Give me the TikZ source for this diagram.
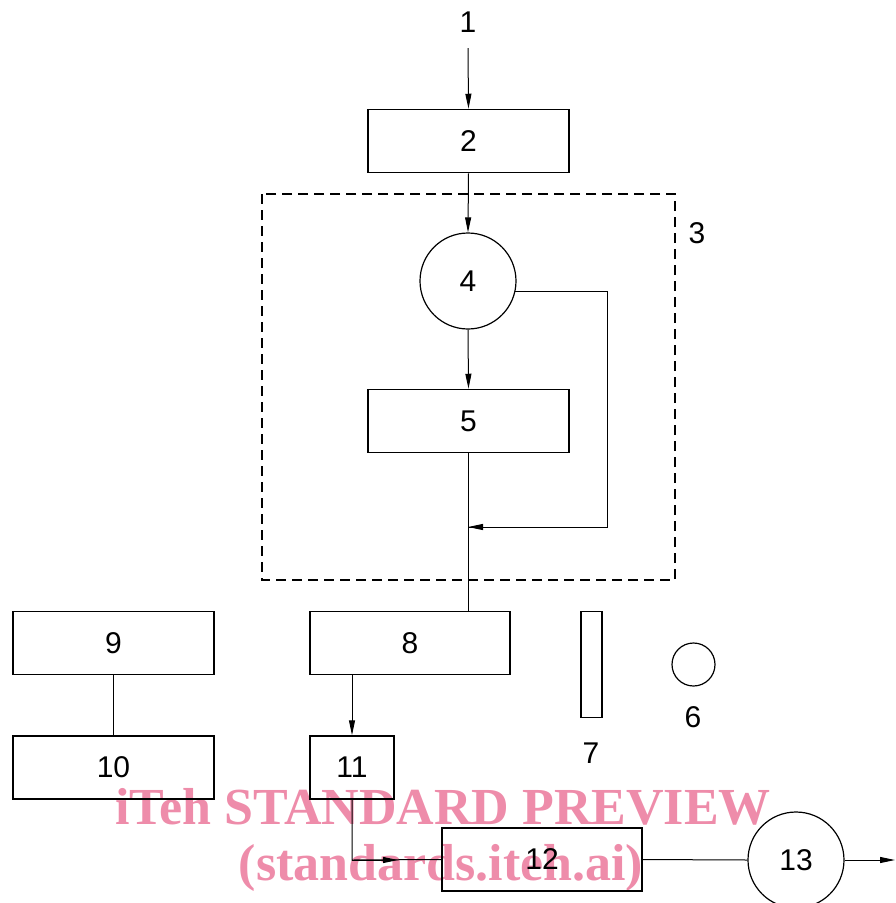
\documentclass[tikz,border=0pt]{standalone}
\usepackage{fontspec}
\setmainfont{Liberation Sans}
\newfontfamily\wmfont{Liberation Serif}
\usetikzlibrary{arrows.meta}
\definecolor{wmpink}{RGB}{238,140,170}
\tikzset{
  every node/.style={font=\fontsize{30}{30}\selectfont, inner sep=0pt},
  boxnode/.style={draw, line width=1.5pt, minimum width=201pt, minimum height=63pt},
  circnode/.style={draw, line width=1.2pt, circle, minimum size=96pt},
  conn/.style={line width=1pt},
  tip/.style={-{Triangle[length=15pt,width=6pt]}},
  lbl/.style={},
  dashbox/.style={draw, line width=1.3pt, dash pattern=on 10pt off 6pt},
  wm/.style={text=wmpink, font=\wmfont\bfseries\fontsize{52}{52}\selectfont, anchor=base}
}
\begin{document}
\begin{tikzpicture}[x=1pt,y=-1pt]
\useasboundingbox (0,0) rectangle (895,903);
% watermark
\node[wm] (wma) at (443,824) {iTeh STANDARD PREVIEW};
\node[wm] (wmb) at (441,880) {(standards.iteh.ai)};
% frame 3
\draw[dashbox] (262,194) rectangle (675,580);
\node[lbl] (n3) at (697,233) {3};
% nodes
\node[lbl] (n1) at (468,22) {1};
\coordinate (c1) at (468,48);
\node[boxnode] (n2) at (468.5,141) {2};
\node[circnode] (n4) at (468,281) {4};
\node[boxnode] (n5) at (468.5,421) {5};
\node[boxnode, minimum width=200pt] (n8) at (410,643) {8};
\node[boxnode] (n9) at (113.5,643) {9};
\node[boxnode] (n10) at (113.5,767.5) {10};
\node[boxnode, minimum width=84pt] (n11) at (352,767.5) {11};
\node[boxnode, minimum width=200pt] (n12) at (542,859.5) {12};
\node[circnode] (n13) at (796,860) {13};
\node[draw, line width=1.5pt, minimum width=21pt, minimum height=106pt] (n7) at (591.5,664.5) {};
\node[lbl] (n7l) at (591,753) {7};
\node[draw, circle, line width=1.2pt, minimum size=43pt] (n6) at (693.5,664.5) {};
\node[lbl] (n6l) at (693,717) {6};
% connectors
\coordinate (j) at (468,527);
\coordinate (r1) at (607.5,291);
\coordinate (r2) at (607.5,527);
\coordinate (k) at (352,860);
\coordinate (ka) at (398,860);
\coordinate (out) at (895,860);
\draw[conn,tip] (c1) -- (n2.north);
\draw[conn,tip] (n2.south) -- (n4.north);
\draw[conn,tip] (n4.south) -- (n5.north);
\draw[conn] (n5.south) -- (n5.south |- n8.north);
\draw[conn] (n4.east |- r1) ++(-1.5,0) -- (r1) -- (r2) -- (j);
\draw[conn,tip] (r2) -- (j);
\draw[conn,tip] (n8.south -| n11.south) -- (n11.north);
\draw[conn] (n9.south) -- (n10.north);
\draw[conn] (n11.south) -- (k) -- (n12.west);
\draw[conn,tip] (k) -- (ka);
\draw[conn] (n12.east) -- (n13.west);
\draw[conn,tip] (n13.east) -- (out);
\end{tikzpicture}
\end{document}
